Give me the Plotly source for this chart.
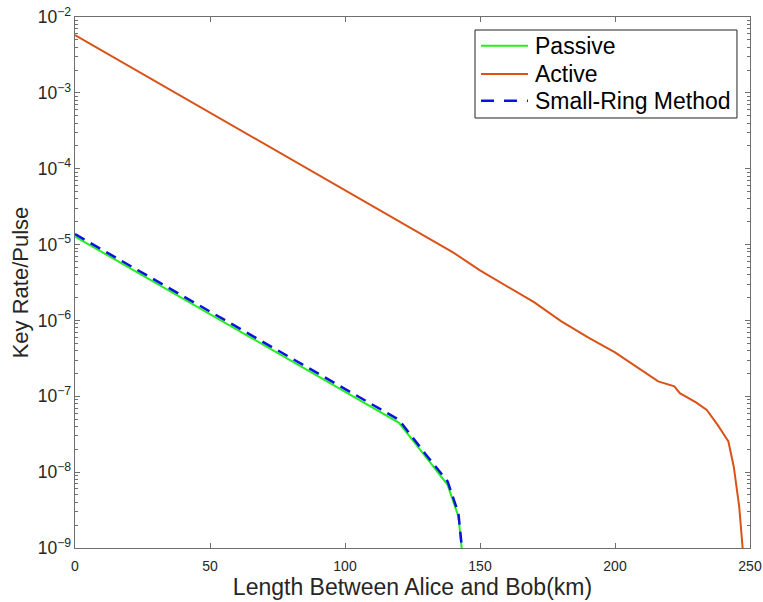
import plotly.graph_objects as go

# ---- data ----
passive_x = [0, 10, 20, 30, 40, 50, 60, 70, 80, 90, 100, 110, 120, 130, 138, 142, 143.2, 143.5]
passive_y = [1.276e-5, 7.96e-6, 4.98e-6, 3.10e-6, 1.94e-6, 1.21e-6, 7.55e-7, 4.71e-7, 2.94e-7,
             1.84e-7, 1.15e-7, 7.15e-8, 4.47e-8, 1.58e-8, 6.8e-9, 2.6e-9, 1.0e-9, 5e-10]

ring_x = [0, 10, 20, 30, 40, 50, 60, 70, 80, 90, 100, 110, 120, 130, 138, 142, 143.3, 143.6]
ring_y = [1.371e-5, 8.57e-6, 5.36e-6, 3.35e-6, 2.09e-6, 1.31e-6, 8.18e-7, 5.12e-7, 3.20e-7,
          2.00e-7, 1.25e-7, 7.82e-8, 4.89e-8, 1.70e-8, 7.55e-9, 2.88e-9, 1.0e-9, 5e-10]

active_x = [0, 10, 20, 30, 40, 50, 60, 70, 80, 90, 100, 110, 120, 130, 140, 150, 160, 170, 180,
            190, 200, 210, 216, 222, 224, 230, 234, 238, 242, 244, 246, 247.5]
active_y = [5.79e-3, 3.61e-3, 2.26e-3, 1.41e-3, 8.8e-4, 5.48e-4, 3.43e-4, 2.14e-4, 1.33e-4, 8.33e-5,
            5.2e-5, 3.24e-5, 2.03e-5, 1.26e-5, 7.9e-6, 4.57e-6, 2.82e-6, 1.74e-6, 9.8e-7, 6.0e-7,
            3.8e-7, 2.19e-7, 1.57e-7, 1.35e-7, 1.10e-7, 8.3e-8, 6.6e-8, 4.2e-8, 2.54e-8, 1.17e-8,
            3.5e-9, 8e-10]

series_names = ["Passive", "Active", "Small-Ring Method"]
x_ticks = [0, 50, 100, 150, 200, 250]

FONT = "Liberation Sans, Arial, Helvetica, sans-serif"
AX = "#6e6e6e"
TXT = "#262626"
COLORS = ["#22ee22", "#D95319", "#0a14d8"]
WIDTHS = [2, 2, 2.5]
DASHES = ["solid", "solid", "11px,7px"]

fig = go.Figure()
for xs, ys, name, c, w, d in zip([passive_x, active_x, ring_x], [passive_y, active_y, ring_y],
                                 series_names, COLORS, WIDTHS, DASHES):
    fig.add_trace(go.Scatter(x=xs, y=ys, mode="lines", name=name,
                             line=dict(color=c, width=w, dash=d)))

# Legend drawn as a MATLAB-style box (paper coordinates)
shapes = [dict(type="rect", xref="paper", yref="paper", x0=0.5926, x1=0.9807, y0=0.8098, y1=0.9755,
               line=dict(color="#222222", width=1), fillcolor="white", layer="above")]
annotations = []
entry_y = [0.946, 0.8927, 0.8424]
for yy, name, c, w, d in zip(entry_y, series_names, COLORS, WIDTHS, DASHES):
    shapes.append(dict(type="line", xref="paper", yref="paper", x0=0.6015, x1=0.6711, y0=yy, y1=yy,
                       line=dict(color=c, width=w, dash=("13px,10px" if d != "solid" else "solid")),
                       layer="above"))
    annotations.append(dict(xref="paper", yref="paper", x=0.6781, y=yy, xanchor="left", yanchor="middle",
                            text=name, showarrow=False, font=dict(size=23, color="black", family=FONT)))

fig.update_layout(
    width=763, height=602,
    margin=dict(l=75, r=13, t=17, b=54),
    paper_bgcolor="white", plot_bgcolor="white",
    font=dict(family=FONT, color=TXT, size=14),
    showlegend=False,
    shapes=shapes, annotations=annotations,
)
fig.update_xaxes(
    range=[0, 250], tickvals=x_ticks, ticktext=[str(v) for v in x_ticks],
    ticks="inside", ticklen=5, tickcolor=AX, showline=True, linecolor=AX, linewidth=1,
    mirror="allticks", showgrid=False, zeroline=False, automargin=False,
    tickfont=dict(size=14, color=TXT), ticklabelstandoff=5, ticklabeloverflow="allow",
    title=dict(text="Length Between Alice and Bob(km)", font=dict(size=23, color=TXT), standoff=6),
)
fig.update_yaxes(
    type="log", range=[-9, -2], dtick=1, exponentformat="power",
    ticks="inside", ticklen=5, tickcolor=AX, showline=True, linecolor=AX, linewidth=1,
    mirror="allticks", showgrid=False, zeroline=False, automargin=False,
    minor=dict(ticks="inside", ticklen=3, tickcolor=AX, dtick="D1", showgrid=False),
    tickfont=dict(size=14, color=TXT), ticklabeloverflow="allow",
    title=dict(text="Key Rate/Pulse", font=dict(size=22, color=TXT), standoff=3),
)

fig.write_html("out.html", config={"displayModeBar": False},
               post_script="document.body.style.margin='0';document.body.style.overflow='hidden';")
